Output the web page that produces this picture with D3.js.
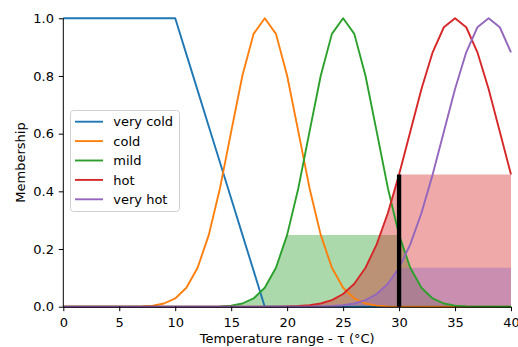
<!DOCTYPE html>
<html>
<head>
<meta charset="utf-8">
<script src="https://cdn.jsdelivr.net/npm/d3@7"></script>
<style>
  body { margin: 0; background: #fff; }
  svg { display: block; font-family: "DejaVu Sans", sans-serif; }
</style>
</head>
<body>
<div id="chart"></div>
<script>
// temperature grid (°C)
let temps = [0, 1, 2, 3, 4, 5, 6, 7, 8, 9, 10, 11, 12, 13, 14, 15, 16, 17, 18, 19, 20,
             21, 22, 23, 24, 25, 26, 27, 28, 29, 30, 31, 32, 33, 34, 35, 36, 37, 38, 39, 40]

let veryCold = [1, 1, 1, 1, 1, 1, 1, 1, 1, 1, 1, 0.875, 0.75, 0.625, 0.5, 0.375, 0.25, 0.125, 0, 0, 0,
                0, 0, 0, 0, 0, 0, 0, 0, 0, 0, 0, 0, 0, 0, 0, 0, 0, 0, 0, 0]
let cold = [0, 0, 0, 0, 0, 0.0001, 0.0003, 0.0012, 0.0039, 0.0111, 0.0286, 0.0657, 0.135, 0.249, 0.411,
            0.607, 0.801, 0.946, 1, 0.946, 0.801, 0.607, 0.411, 0.249, 0.135, 0.0657, 0.0286, 0.0111,
            0.0039, 0.0012, 0.0003, 0.0001, 0, 0, 0, 0, 0, 0, 0, 0, 0]
let mild = [0, 0, 0, 0, 0, 0, 0, 0, 0, 0, 0, 0, 0.0001, 0.0003, 0.0012, 0.0039, 0.0111, 0.0286, 0.0657,
            0.135, 0.249, 0.411, 0.607, 0.801, 0.946, 1, 0.946, 0.801, 0.607, 0.411, 0.249, 0.135,
            0.0657, 0.0286, 0.0111, 0.0039, 0.0012, 0.0003, 0.0001, 0, 0]
let hot = [0, 0, 0, 0, 0, 0, 0, 0, 0, 0, 0, 0, 0, 0, 0, 0, 0, 0, 0.0001, 0.0003, 0.0009, 0.0022, 0.0051,
           0.0111, 0.0228, 0.0439, 0.0796, 0.135, 0.216, 0.325, 0.458, 0.607, 0.755, 0.882, 0.969, 1,
           0.969, 0.882, 0.755, 0.607, 0.458]
let veryHot = [0, 0, 0, 0, 0, 0, 0, 0, 0, 0, 0, 0, 0, 0, 0, 0, 0, 0, 0, 0, 0, 0.0001, 0.0003, 0.0009,
               0.0022, 0.0051, 0.0111, 0.0228, 0.0439, 0.0796, 0.135, 0.216, 0.325, 0.458, 0.607,
               0.755, 0.882, 0.969, 1, 0.969, 0.882]

let seriesNames = ["very cold", "cold", "mild", "hot", "very hot"]
let seriesColors = ["#1f77b4", "#ff7f0e", "#2ca02c", "#d62728", "#9467bd"]

// crisp input and activation levels of each set there
let inputTemp = 30
let activated = ["mild", "hot", "very hot"]
let activationLevels = [0.249, 0.458, 0.135]

let xTicks = [0, 5, 10, 15, 20, 25, 30, 35, 40]
let yTicks = [0, 0.2, 0.4, 0.6, 0.8, 1.0]

let seriesData = [veryCold, cold, mild, hot, veryHot]

let W = 518, H = 347
let margin = {top: 18.3, right: 7, bottom: 40.3, left: 63.3}
let width = W - margin.left - margin.right,
    height = H - margin.top - margin.bottom
let fontSize = "13px"

let svg = d3.select("#chart").append("svg")
      .attr("width", W)
      .attr("height", H)

let g = svg.append("g")
      .attr("transform", "translate(" + margin.left + "," + margin.top + ")")

// SCALES
let xScale = d3.scaleLinear().domain([0, 40]).range([0, width])
let yScale = d3.scaleLinear().domain([0, 1]).range([height, 0])

// FILLS (clipped memberships)
activated.forEach(function(name, k) {
  let idx = seriesNames.indexOf(name)
  let vals = seriesData[idx]
  let level = activationLevels[k]
  let area = d3.area()
        .x(function(d, i) { return xScale(temps[i]) })
        .y0(yScale(0))
        .y1(function(d) { return yScale(Math.min(level, d)) })
  g.append("path")
    .datum(vals)
    .attr("d", area)
    .attr("fill", seriesColors[idx])
    .attr("fill-opacity", 0.4)
})

// LINES
let line = d3.line()
      .x(function(d, i) { return xScale(temps[i]) })
      .y(function(d) { return yScale(d) })

seriesData.forEach(function(vals, i) {
  g.append("path")
    .datum(vals)
    .attr("d", line)
    .attr("fill", "none")
    .attr("stroke", seriesColors[i])
    .attr("stroke-width", 1.9)
    .attr("stroke-linejoin", "round")
})

// input marker
let hotLevel = activationLevels[activated.indexOf("hot")]
g.append("line")
  .attr("x1", xScale(inputTemp)).attr("x2", xScale(inputTemp))
  .attr("y1", yScale(0)).attr("y2", yScale(hotLevel))
  .attr("stroke", "#000")
  .attr("stroke-width", 4.3)

// AXES
let xAxis = d3.axisBottom(xScale).tickValues(xTicks).tickSize(4.5).tickPadding(6.8)
      .tickFormat(d3.format("d"))
let yAxis = d3.axisLeft(yScale).tickValues(yTicks).tickSize(4.5).tickPadding(4.8)
      .tickFormat(d3.format(".1f"))

let gx = g.append("g")
      .attr("class", "x axis")
      .attr("transform", "translate(0," + height + ")")
      .call(xAxis)
let gy = g.append("g")
      .attr("class", "y axis")
      .call(yAxis)

g.selectAll(".axis path").attr("stroke", "#000").attr("stroke-width", 1)
gx.select("path").attr("d", "M0,0.5H" + width)
gy.select("path").attr("d", "M0," + height + "V0")
g.selectAll(".axis line").attr("stroke", "#000").attr("stroke-width", 1)
g.selectAll(".axis text").attr("fill", "#000").style("font-size", fontSize)
  .style("font-family", "DejaVu Sans")

// AXIS TITLES
svg.append("text")
  .attr("x", margin.left + width / 2)
  .attr("y", 342.8)
  .attr("text-anchor", "middle")
  .style("font-size", fontSize)
  .text("Temperature range - τ (°C)")

svg.append("text")
  .attr("transform", "translate(24.5," + (margin.top + height / 2) + ") rotate(-90)")
  .attr("text-anchor", "middle")
  .style("font-size", fontSize)
  .text("Membership")

// LEGEND
let legend = svg.append("g").attr("transform", "translate(70.5,110.5)")
legend.append("rect")
  .attr("width", 109)
  .attr("height", 101)
  .attr("rx", 3)
  .attr("fill", "#fff")
  .attr("fill-opacity", 0.8)
  .attr("stroke", "#d0d0d0")
  .attr("stroke-width", 1)

seriesNames.forEach(function(name, i) {
  let yy = 11.2 + i * 19.4
  legend.append("line")
    .attr("x1", 4.5).attr("x2", 32.5)
    .attr("y1", yy).attr("y2", yy)
    .attr("stroke", seriesColors[i])
    .attr("stroke-width", 1.9)
  legend.append("text")
    .attr("x", 42.8)
    .attr("y", yy + 4.7)
    .style("font-size", fontSize)
    .text(name)
})
</script>
</body>
</html>
